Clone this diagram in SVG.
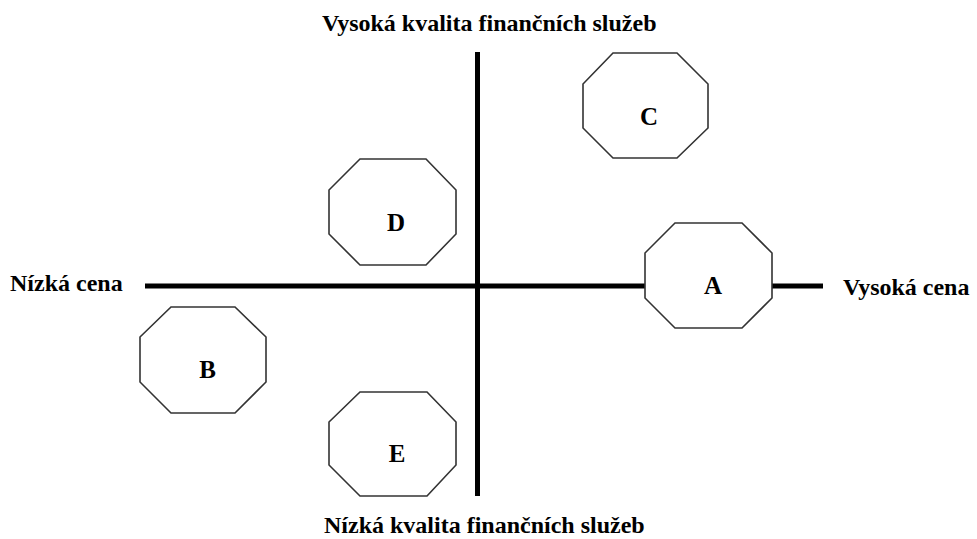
<svg xmlns="http://www.w3.org/2000/svg" width="977" height="539" viewBox="0 0 977 539">
<style>
.oct{fill:#fff;stroke:#333;stroke-width:1.6}
.ax{stroke:#000;stroke-width:5;fill:none}
.t{font-family:"Liberation Serif","Times New Roman",serif;font-weight:bold;font-size:24px;fill:#000}
.l{font-family:"Liberation Serif","Times New Roman",serif;font-weight:bold;font-size:25px;fill:#000;text-anchor:middle}
</style>
<rect width="977" height="539" fill="#fff"/>
<g id="connectors">
<line class="ax" x1="477.5" y1="52" x2="477.5" y2="496"/>
<line class="ax" x1="145" y1="286" x2="823" y2="286"/>
</g>
<g id="C"><polygon class="oct" points="613,53 677,53 708,84 708,128 677,158 613,158 583,128 583,84"/><text class="l" x="649" y="125">C</text></g>
<g id="D"><polygon class="oct" points="360,159 426,159 456,190 456,234 426,265 360,265 329,234 329,190"/><text class="l" x="396" y="231">D</text></g>
<g id="A"><polygon class="oct" points="675,223 742,223 772,253 772,298 742,328 675,328 645,298 645,253"/><text class="l" x="713" y="294">A</text></g>
<g id="B"><polygon class="oct" points="171,307 235,307 266,337 266,382 235,413 171,413 140,382 140,337"/><text class="l" x="207.5" y="378">B</text></g>
<g id="E"><polygon class="oct" points="360,392 427,392 456,422 456,465 427,496 360,496 329,465 329,422"/><text class="l" x="397" y="462">E</text></g>
<g id="labels">
<text class="t" x="322" y="31">Vysoká kvalita finančních služeb</text>
<text class="t" x="324" y="533">Nízká kvalita finančních služeb</text>
<text class="t" x="10" y="291">Nízká cena</text>
<text class="t" x="843" y="295">Vysoká cena</text>
</g>
</svg>
